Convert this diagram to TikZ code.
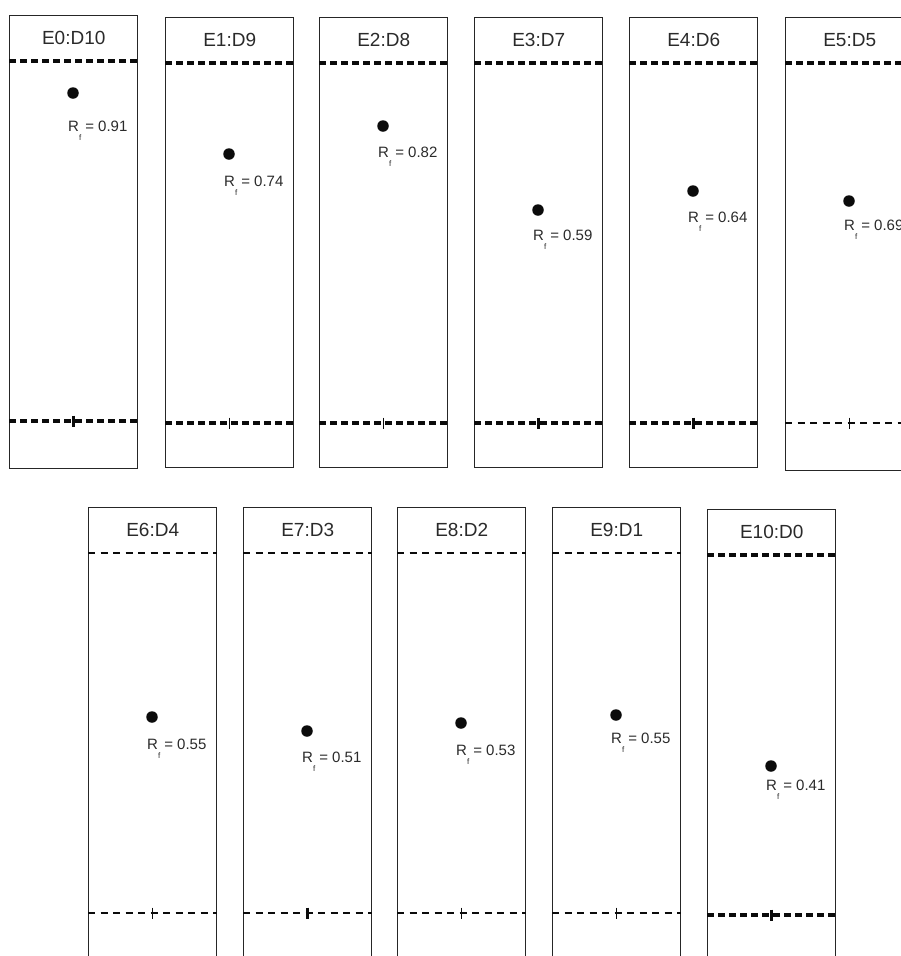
\documentclass[tikz,border=0pt]{standalone}
\usepackage{fontspec}
\setmainfont{Liberation Sans}
\usetikzlibrary{positioning,calc}
\definecolor{cink}{HTML}{0b0b0b}
\definecolor{cframe}{HTML}{262626}
\definecolor{ctext}{HTML}{2a2a2a}

\begin{document}
\begin{tikzpicture}[x=1pt, y=-1pt, every node/.style={inner sep=0pt, text=ctext}]
  \tikzset{
    lanebox/.style={draw=cframe, line width=1.4pt, minimum width=128pt, anchor=north west},
    heavydash/.style={cink, line width=3.2pt, dash pattern=on 7pt off 4pt},
    lightdash/.style={cink, line width=1.5pt, dash pattern=on 7pt off 5.5pt},
    spot/.style={circle, fill=cink, minimum size=11.5pt},
    lanetitle/.style={font=\fontsize{19}{21}\selectfont},
    rflabel/.style={anchor=base west, font=\fontsize{15}{17}\selectfont}
  }
  \useasboundingbox (0,0) rectangle (901,956);
  \foreach \i/\lx/\ty/\h/\dy/\ly/\val/\ts/\bs/\tw in {
      0/9/15/453/93/131/0.91/heavydash/heavydash/3.5,
      1/165/17/450/154/186/0.74/heavydash/heavydash/1.5,
      2/319/17/450/126/157/0.82/heavydash/heavydash/1.5,
      3/474/17/450/210/240/0.59/heavydash/heavydash/3,
      4/629/17/450/191/222/0.64/heavydash/heavydash/3,
      5/785/17/453/201/230/0.69/heavydash/lightdash/1.5,
      6/88/507/500/717/749/0.55/lightdash/lightdash/1.5,
      7/243/507/500/731/762/0.51/lightdash/lightdash/3.5,
      8/397/507/500/723/755/0.53/lightdash/lightdash/1.5,
      9/552/507/500/715/743/0.55/lightdash/lightdash/1.5,
      10/707/509/500/766/790/0.41/heavydash/heavydash/3} {
    \pgfmathtruncatemacro\dd{10-\i}
    \node[lanebox, minimum height=\h pt] (lane\i) at (\lx,\ty) {};
    \node[lanetitle] (title\i) at ($(lane\i.north)+(0,23)$) {E\i:D\dd};
    % solvent front and origin line
    \path (lane\i.north) ++(0,46) coordinate (front\i);
    \path (lane\i.north) ++(0,406) coordinate (base\i);
    \draw[\ts] (front\i -| lane\i.west) -- (front\i -| lane\i.east);
    \draw[\bs] (base\i -| lane\i.west) -- (base\i -| lane\i.east);
    \draw[cink, line width=\tw pt] ($(base\i)+(0,-5.5)$) -- ($(base\i)+(0,5.5)$);
    \node[spot] (spot\i) at (\lx+64,\dy) {};
    \node[rflabel] (rf\i) at (\lx+59,\ly) {R\raisebox{-9pt}{\fontsize{8}{8}\selectfont f}\hspace{4pt}= \val};
  }
\end{tikzpicture}
\end{document}
